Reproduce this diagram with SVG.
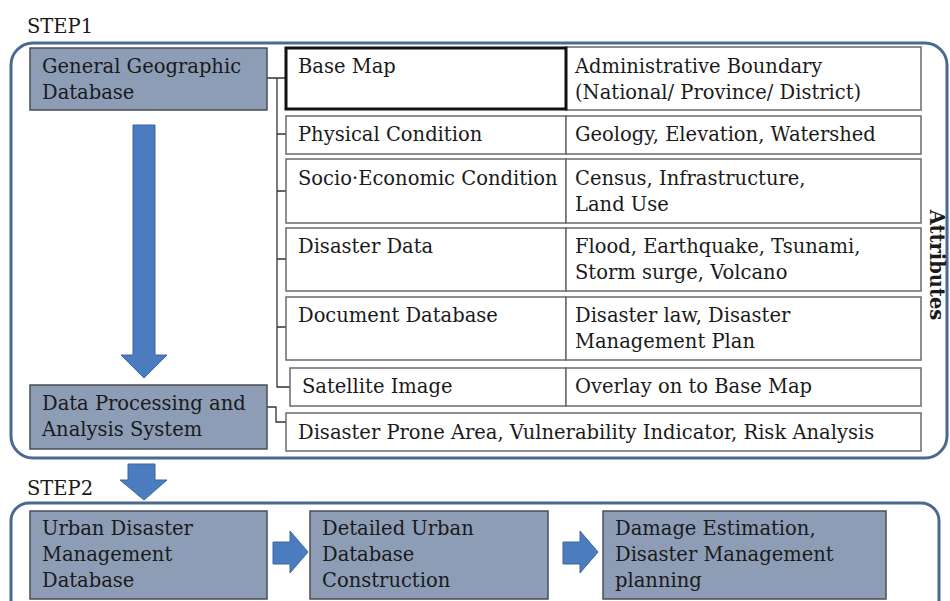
<svg xmlns="http://www.w3.org/2000/svg" width="950" height="601" viewBox="0 0 950 601">
<defs>
<style>
text{font-family:"DejaVu Serif","Liberation Serif",serif;font-size:19.5px;fill:#1a1a1a}
.step{fill:none;stroke:#4a6a92;stroke-width:3}
.gbox{fill:#8d9db6;stroke:#4a4e55;stroke-width:1.5}
.cell{fill:#fff;stroke:#6a6a6a;stroke-width:1.5}
.bold{fill:#fff;stroke:#111;stroke-width:3}
.arrow{fill:#4a7cbf;stroke:#3c669c;stroke-width:1}
.conn{fill:none;stroke:#333;stroke-width:1.3}
</style>
</defs>
<rect width="950" height="601" fill="#fff"/>
<text x="27" y="33">STEP1</text>
<rect class="step" x="11" y="43" width="936" height="415" rx="22"/>
<text x="27" y="495">STEP2</text>
<rect class="step" x="11" y="503" width="928" height="120" rx="18"/>

<g id="connectors">
<path class="conn" d="M267 78 H286 M277 78 V387 H290 M277 134 H286 M277 191 H286 M277 259 H286 M277 327 H286 M267 407 H276 V422 H286"/>
<path class="arrow" d="M133 125 H155 V355 H167 L144 378 L121 355 H133 Z"/>
<path class="arrow" d="M128 464 H155 V480 H167 L144 500 L120 480 H128 Z"/>
<path class="arrow" d="M273 542 H290 V531 L308 552 L290 573 V564 H273 Z"/>
<path class="arrow" d="M563 542 H580 V531 L598 552 L580 573 V564 H563 Z"/>
</g>

<g id="general-geographic-database">
<rect class="gbox" x="30" y="48" width="237" height="62"/>
<text x="42" y="73">General Geographic</text>
<text x="42" y="99">Database</text>
</g>
<g id="base-map">
<rect class="cell" x="566" y="47" width="355" height="63"/>
<rect class="bold" x="286" y="48" width="280" height="61"/>
<text x="298" y="73">Base Map</text>
<text x="575" y="73">Administrative Boundary</text>
<text x="575" y="99">(National/ Province/ District)</text>
</g>
<g id="physical-condition">
<rect class="cell" x="286" y="116" width="280" height="38"/>
<rect class="cell" x="566" y="116" width="355" height="38"/>
<text x="298" y="141">Physical Condition</text>
<text x="575" y="141">Geology, Elevation, Watershed</text>
</g>
<g id="socio-economic-condition">
<rect class="cell" x="286" y="159" width="280" height="64"/>
<rect class="cell" x="566" y="159" width="355" height="64"/>
<text x="298" y="185">Socio·Economic Condition</text>
<text x="575" y="185">Census, Infrastructure,</text>
<text x="575" y="211">Land Use</text>
</g>
<g id="disaster-data">
<rect class="cell" x="286" y="228" width="280" height="63"/>
<rect class="cell" x="566" y="228" width="355" height="63"/>
<text x="298" y="253">Disaster Data</text>
<text x="575" y="253">Flood, Earthquake, Tsunami,</text>
<text x="575" y="279">Storm surge, Volcano</text>
</g>
<g id="document-database">
<rect class="cell" x="286" y="297" width="280" height="63"/>
<rect class="cell" x="566" y="297" width="355" height="63"/>
<text x="298" y="322">Document Database</text>
<text x="575" y="322">Disaster law, Disaster</text>
<text x="575" y="348">Management Plan</text>
</g>
<g id="satellite-image">
<rect class="cell" x="290" y="368" width="276" height="38"/>
<rect class="cell" x="566" y="368" width="355" height="38"/>
<text x="302" y="393">Satellite Image</text>
<text x="575" y="393">Overlay on to Base Map</text>
</g>
<g id="disaster-prone-area">
<rect class="cell" x="286" y="413" width="635" height="38"/>
<text x="298" y="439">Disaster Prone Area, Vulnerability Indicator, Risk Analysis</text>
</g>
<g id="data-processing">
<rect class="gbox" x="30" y="385" width="237" height="64"/>
<text x="42" y="410">Data Processing and</text>
<text x="42" y="436">Analysis System</text>
</g>
<g id="attributes">
<text x="0" y="0" transform="translate(930 265) rotate(90)" text-anchor="middle" font-weight="bold" font-size="19">Attributes</text>
</g>
<g id="urban-disaster-management-database">
<rect class="gbox" x="30" y="511" width="237" height="88"/>
<text x="42" y="535">Urban Disaster</text>
<text x="42" y="561">Management</text>
<text x="42" y="587">Database</text>
</g>
<g id="detailed-urban-database">
<rect class="gbox" x="310" y="511" width="238" height="88"/>
<text x="322" y="535">Detailed Urban</text>
<text x="322" y="561">Database</text>
<text x="322" y="587">Construction</text>
</g>
<g id="damage-estimation">
<rect class="gbox" x="603" y="511" width="283" height="88"/>
<text x="615" y="535">Damage Estimation,</text>
<text x="615" y="561">Disaster Management</text>
<text x="615" y="587">planning</text>
</g>
</svg>
